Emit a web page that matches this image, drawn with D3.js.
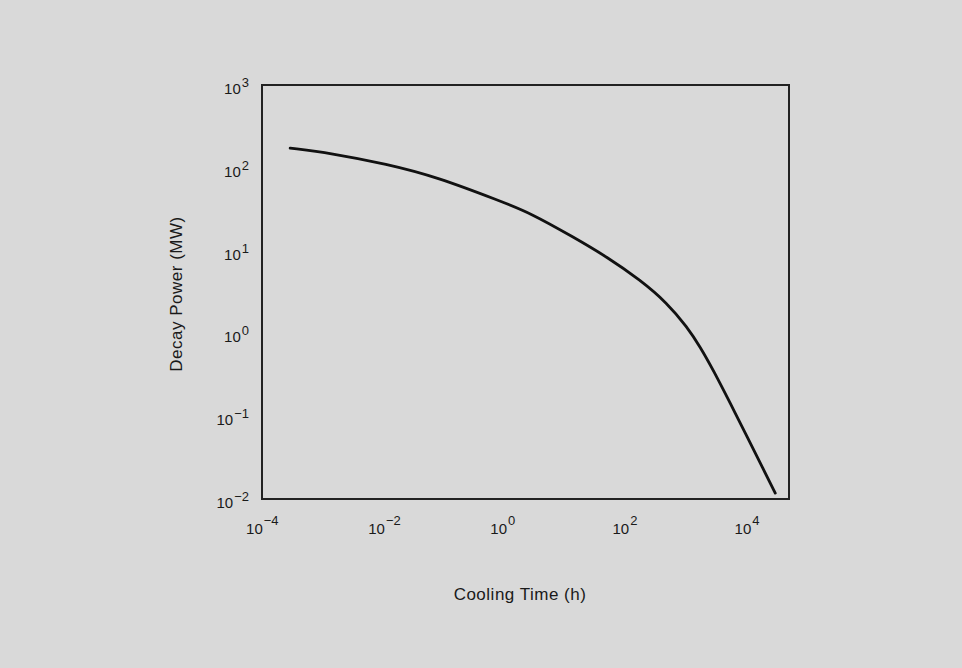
<!DOCTYPE html>
<html>
<head>
<meta charset="utf-8">
<script src="https://cdn.jsdelivr.net/npm/d3@7"></script>
<style>
  html, body { margin: 0; padding: 0; background: #d9d9d9; }
  svg { display: block; }
</style>
</head>
<body>
<svg id="chart" width="962" height="668"></svg>
<script>
// Data
const coolingTimeH = [3.9e-4, 1.76e-3, 0.0150, 0.099, 1.07, 3.32, 16.8, 60.5, 210, 582, 1239, 2023, 3304, 6266, 11912, 21777, 34277];
const decayPowerMW = [173, 151, 111, 77.4, 39.7, 28.5, 14.6, 8.37, 4.42, 2.33, 1.19, 0.686, 0.361, 0.144, 0.0561, 0.0230, 0.0118];
const xTickExponents = [-4, -2, 0, 2, 4];
const yTickExponents = [3, 2, 1, 0, -1, -2];
const xTitle = "Cooling Time (h)";
const yTitle = "Decay Power (MW)";

(function () {
const svg = d3.select("#chart");
svg.append("rect").attr("x", 0).attr("y", 0).attr("width", 962).attr("height", 668).attr("fill", "#d9d9d9");

const pL = 262, pR = 789, pT = 85, pB = 499;
const x = d3.scaleLog().domain([Math.pow(10, -3.87), Math.pow(10, 4.76)]).range([pL, pR]);
const y = d3.scaleLog().domain([1e-2, 1e3]).range([pB, pT]);

const font = "'Liberation Sans', Arial, Helvetica, sans-serif";
const ink = "#1a1a1a";

// frame
svg.append("rect")
  .attr("x", pL).attr("y", pT)
  .attr("width", pR - pL).attr("height", pB - pT)
  .attr("fill", "none").attr("stroke", "#222").attr("stroke-width", 2);

const expText = e => (e < 0 ? "\u2212" + Math.abs(e) : String(e));

// x tick labels
const xl = svg.append("g").attr("font-family", font).attr("fill", ink);
xTickExponents.forEach(e => {
  const t = xl.append("text")
    .attr("x", x(Math.pow(10, e)) - 8)
    .attr("y", 534)
    .attr("font-size", 15)
    .attr("text-anchor", "start");
  t.append("tspan").text("10");
  t.append("tspan").attr("dx", 1).attr("dy", -9).attr("font-size", 13).text(expText(e));
});

// y tick labels
const yl = svg.append("g").attr("font-family", font).attr("fill", ink);
yTickExponents.forEach(e => {
  const t = yl.append("text")
    .attr("x", 249)
    .attr("y", y(Math.pow(10, e)) + 9)
    .attr("font-size", 15)
    .attr("text-anchor", "end");
  t.append("tspan").text("10");
  t.append("tspan").attr("dx", 1).attr("dy", -7).attr("font-size", 13).text(expText(e));
});

// axis titles
svg.append("text")
  .attr("x", 520).attr("y", 600)
  .attr("text-anchor", "middle")
  .attr("font-family", font).attr("font-size", 17).attr("letter-spacing", 0.5).attr("fill", ink)
  .text(xTitle);

svg.append("text")
  .attr("transform", "translate(182,294) rotate(-90)")
  .attr("text-anchor", "middle")
  .attr("font-family", font).attr("font-size", 17).attr("letter-spacing", 0.5).attr("fill", ink)
  .text(yTitle);

// curve
const pts = coolingTimeH.map((t, i) => [t, decayPowerMW[i]]);
const line = d3.line()
  .x(d => x(d[0]))
  .y(d => y(d[1]))
  .curve(d3.curveBasis);

svg.append("path")
  .datum(pts)
  .attr("d", line)
  .attr("fill", "none")
  .attr("stroke", "#111")
  .attr("stroke-width", 2.8)
  .attr("stroke-linecap", "round");
})();
</script>
</body>
</html>
